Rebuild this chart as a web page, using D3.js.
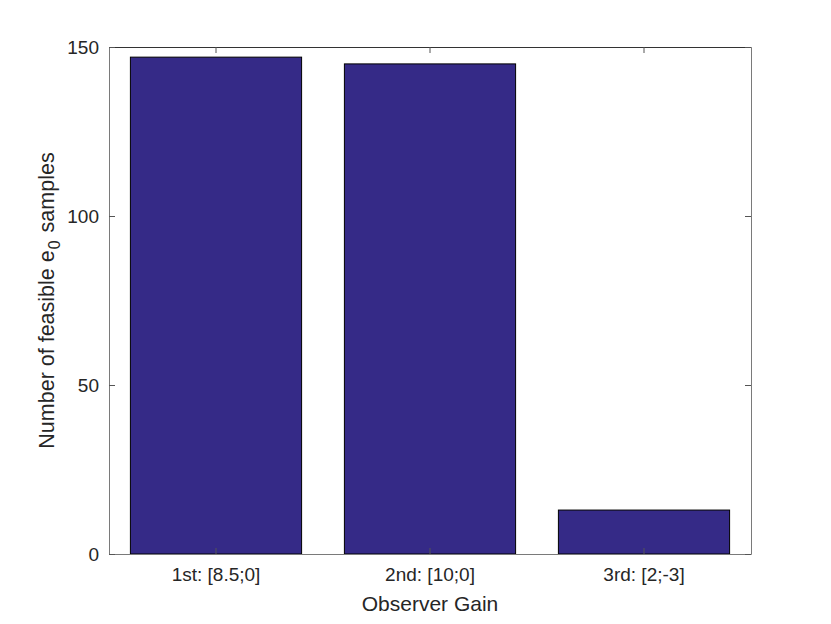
<!DOCTYPE html>
<html><head><meta charset="utf-8">
<script src="https://cdn.jsdelivr.net/npm/d3@7"></script>
<style>body{margin:0;background:#fff}svg{display:block}text{font-family:"Liberation Sans",Arial,Helvetica,sans-serif;fill:#262626}</style>
</head><body>
<script>
const categories = ["1st: [8.5;0]", "2nd: [10;0]", "3rd: [2;-3]"];
const values = [147, 145, 13];
const yTicks = [0, 50, 100, 150];

const W = 831, H = 624;
const m = {left:109, right:80, top:47, bottom:70};
const iw = 751 - 109, ih = 554 - 47;

const svg = d3.select("body").append("svg").attr("width", W).attr("height", H);
const g = svg.append("g").attr("transform", `translate(${m.left},${m.top})`);

const x = d3.scaleBand().domain(categories).range([0, iw]).paddingInner(0.2).paddingOuter(0.1);
const y = d3.scaleLinear().domain([0, 150]).range([ih, 0]);

g.selectAll("rect.bar").data(values).join("rect").attr("class","bar")
  .attr("x", (d,i)=>x(categories[i])).attr("width", x.bandwidth())
  .attr("y", d=>y(d)).attr("height", d=>ih - y(d))
  .attr("fill", "#352a87").attr("stroke", "#000").attr("stroke-width", 1);

const tl = 6;
const xb = d3.axisBottom(x).tickSizeInner(-tl).tickSizeOuter(0).tickPadding(14);
const xt = d3.axisTop(x).tickSizeInner(-tl).tickSizeOuter(0).tickFormat("");
const yl = d3.axisLeft(y).tickValues(yTicks).tickSizeInner(-tl).tickSizeOuter(0).tickPadding(10);
const yr = d3.axisRight(y).tickValues(yTicks).tickSizeInner(-tl).tickSizeOuter(0).tickFormat("");

function style(sel, col){
  sel.select(".domain").attr("stroke", col).attr("stroke-width", 1);
  sel.selectAll(".tick line").attr("stroke", "#555");
  sel.selectAll(".tick text").attr("font-size", 19).attr("fill", "#262626")
    .attr("font-family", '"Liberation Sans",Arial,Helvetica,sans-serif');
}
style(g.append("g").attr("transform", `translate(0,${ih})`).call(xb), "#7a7a7a");
style(g.append("g").call(xt), "#333");
style(g.append("g").call(yl), "#7a7a7a");
style(g.append("g").attr("transform", `translate(${iw},0)`).call(yr), "#7a7a7a");

svg.append("text").attr("x", m.left + iw/2).attr("y", 611).attr("text-anchor","middle")
  .attr("font-size", 21).text("Observer Gain");

const yt = svg.append("text").attr("transform", `translate(54,${m.top + ih/2}) rotate(-90)`)
  .attr("text-anchor","middle").attr("font-size", 21.5);
yt.append("tspan").text("Number of feasible e");
yt.append("tspan").attr("dy", 6).attr("dx", 1).attr("font-size", 16).text("0");
yt.append("tspan").attr("dy", -6).attr("dx", 2).text(" samples");
</script>
</body></html>
